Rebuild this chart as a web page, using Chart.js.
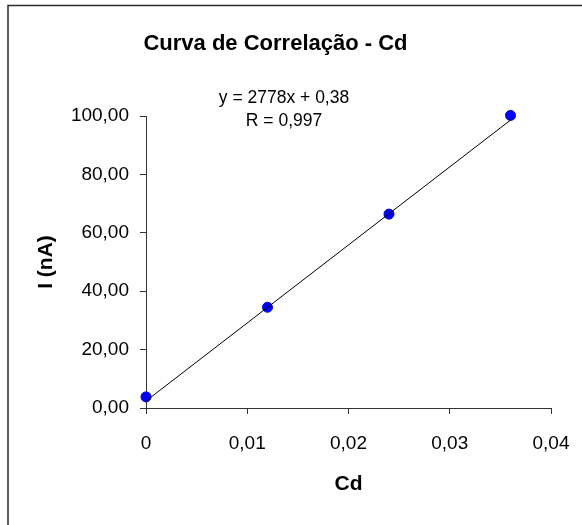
<!DOCTYPE html>
<html>
<head>
<meta charset="utf-8">
<script src="https://cdn.jsdelivr.net/npm/chart.js@4/dist/chart.umd.min.js"></script>
<style>
  body { margin: 0; background: #fff; }
  canvas { display: block; }
</style>
</head>
<body>
<canvas id="chart" width="582" height="525"></canvas>
<script>
// Cd concentration vs current
const cdValues = [0, 0.012, 0.024, 0.036];
const currentValues = [3.8, 34.5, 66.4, 100.2];
// linear trend line end points
const trendX = [0, 0.036];
const trendY = [2.4, 98.6];
const equationLines = ['y = 2778x + 0,38', 'R = 0,997'];
const yTicks = [0, 20, 40, 60, 80, 100];
const xTicks = [0, 0.01, 0.02, 0.03, 0.04];

const FONT = "'Liberation Sans', Arial, sans-serif";
const AXIS = '#333333';

const frame = {
  id: 'frame',
  beforeDraw(chart) {
    const ctx = chart.ctx;
    ctx.save();
    ctx.fillStyle = '#fff';
    ctx.fillRect(0, 0, chart.width, chart.height);
    ctx.strokeStyle = '#2a2a2a';
    ctx.lineWidth = 1.5;
    ctx.beginPath();
    ctx.moveTo(8, chart.height + 2);
    ctx.lineTo(8, 5.5);
    ctx.lineTo(chart.width + 2, 5.5);
    ctx.stroke();
    ctx.restore();
  },
  afterDraw(chart) {
    const ctx = chart.ctx;
    ctx.save();
    ctx.fillStyle = '#000';
    ctx.font = '17.5px ' + FONT;
    ctx.textAlign = 'center';
    ctx.textBaseline = 'middle';
    ctx.fillText(equationLines[0], 284, 98);
    ctx.fillText(equationLines[1], 284, 121);
    ctx.restore();
  }
};

function fmtX(v) {
  if (Math.abs(v) < 1e-9) return '0';
  return v.toFixed(2).replace('.', ',');
}

new Chart(document.getElementById('chart').getContext('2d'), {
  type: 'scatter',
  data: {
    datasets: [{
      label: 'Tendência',
      data: trendX.map((x, i) => ({ x: x, y: trendY[i] })),
      showLine: true,
      borderColor: '#000',
      borderWidth: 1,
      pointRadius: 0,
      clip: false
    }, {
      label: 'Cd',
      data: cdValues.map((x, i) => ({ x: x, y: currentValues[i] })),
      backgroundColor: '#0000ff',
      borderColor: '#0000dd',
      borderWidth: 1,
      pointRadius: 5,
      clip: false
    }]
  },
  options: {
    responsive: false,
    animation: false,
    layout: { padding: { left: 0, right: 31, top: 0, bottom: 0 } },
    plugins: {
      legend: { display: false },
      tooltip: { enabled: false },
      title: {
        display: true,
        text: 'Curva de Correlação - Cd',
        color: '#000',
        font: { family: FONT, size: 22, weight: 'bold' },
        padding: { top: 31, bottom: 58.6 }
      }
    },
    scales: {
      x: {
        type: 'linear',
        min: 0,
        max: 0.04,
        afterBuildTicks: s => { s.ticks = xTicks.map(v => ({ value: v })); },
        afterFit: s => { s.height = 117; s.paddingLeft = 0; s.paddingRight = 0; },
        border: { display: true, color: AXIS, width: 1 },
        grid: { drawOnChartArea: false, drawTicks: true, tickLength: 6, color: AXIS },
        ticks: {
          color: '#000',
          padding: 18,
          maxRotation: 0,
          font: { family: FONT, size: 19 },
          callback: v => fmtX(v)
        },
        title: {
          display: true,
          text: 'Cd',
          color: '#000',
          font: { family: FONT, size: 21, weight: 'bold' },
          padding: { top: 0, bottom: 28.4 }
        }
      },
      y: {
        type: 'linear',
        min: 0,
        max: 100,
        afterBuildTicks: s => { s.ticks = yTicks.map(v => ({ value: v })); },
        afterFit: s => { s.width = 146; },
        border: { display: true, color: AXIS, width: 1 },
        grid: { drawOnChartArea: false, drawTicks: true, tickLength: 6, color: AXIS },
        ticks: {
          color: '#000',
          padding: 11,
          font: { family: FONT, size: 19 },
          callback: v => v.toFixed(2).replace('.', ',')
        },
        title: {
          display: true,
          text: 'I (nA)',
          color: '#000',
          font: { family: FONT, size: 21, weight: 'bold' },
          padding: { top: 33.4, bottom: 0 }
        }
      }
    }
  },
  plugins: [frame]
});
</script>
</body>
</html>
